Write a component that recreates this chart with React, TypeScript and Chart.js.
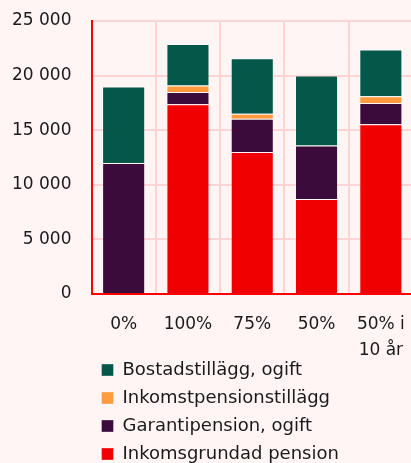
import React, { useEffect, useRef } from "react";
import { Chart, registerables } from "chart.js";

Chart.register(...registerables);

const categories: (string | string[])[] = ["0%", "100%", "75%", "50%", ["50% i", "10 år"]];
const inkomstgrundad = [0, 17370, 13000, 8700, 15550];
const garantipension = [12000, 1130, 3050, 4900, 1950];
const inkomstpensionstillagg = [0, 600, 450, 0, 600];
const bostadstillagg = [7000, 3800, 5100, 6400, 4300];
const yTicks = [0, 5000, 10000, 15000, 20000, 25000];

const BG = "#fff5f4";
const FONT = "'DejaVu Sans', 'Noto Sans', sans-serif";

const extendXClip = {
  id: "extendXClip",
  afterLayout(chart: any) {
    const x = chart.scales.x;
    if (x) x.bottom += 18;
  },
};

export default function App() {
  const ref = useRef<HTMLCanvasElement | null>(null);
  useEffect(() => {
    document.documentElement.style.overflow = "hidden";
    const ctx = ref.current!;
    const border = "rgba(255,255,255,0.35)";
    const chart = new Chart(ctx, {
      type: "bar",
      data: {
        labels: categories,
        datasets: [
          { label: "Inkomsgrundad pension", data: inkomstgrundad, backgroundColor: "#f00000", borderColor: border, borderWidth: 1 },
          { label: "Garantipension, ogift", data: garantipension, backgroundColor: "#3a0b3b", borderColor: border, borderWidth: 1 },
          { label: "Inkomstpensionstillägg", data: inkomstpensionstillagg, backgroundColor: "#ff9b3d", borderColor: border, borderWidth: 1 },
          { label: "Bostadstillägg, ogift", data: bostadstillagg, backgroundColor: "#03584a", borderColor: border, borderWidth: 1 },
        ],
      },
      plugins: [extendXClip],
      options: {
        animation: false,
        responsive: false,
        maintainAspectRatio: false,
        layout: { padding: { top: 13, right: 0, left: 0, bottom: 0 } },
        datasets: { bar: { categoryPercentage: 1, barPercentage: 0.67 } },
        plugins: {
          tooltip: { enabled: false },
          legend: {
            position: "bottom",
            align: "start",
            fullSize: false,
            reverse: true,
            labels: {
              boxWidth: 12,
              boxHeight: 12,
              padding: 10,
              color: "#1a1a1a",
              font: { family: FONT, size: 18 },
            },
          },
        },
        scales: {
          x: {
            stacked: true,
            grid: { color: "#ffd4d4", drawTicks: false, lineWidth: 2 },
            border: { color: "#ff0000", width: 2 },
            ticks: {
              color: "#1a1a1a",
              padding: 18,
              font: { family: FONT, size: 17, lineHeight: 1.5 },
            },
            afterFit: (s: any) => {
              s.height = 57;
              s.paddingLeft = 0;
              s.paddingRight = 0;
            },
          },
          y: {
            stacked: true,
            min: 0,
            max: 25000,
            afterBuildTicks: (s: any) => {
              s.ticks = yTicks.map((v) => ({ value: v }));
            },
            grid: { color: "#ffd4d4", drawTicks: false, lineWidth: 2 },
            border: { color: "#ff0000", width: 2 },
            ticks: {
              color: "#1a1a1a",
              padding: 20,
              font: { family: FONT, size: 17 },
              callback: (v: any) => {
                const n = Number(v);
                return String(n).replace(/\B(?=(\d{3})+(?!\d))/g, " ");
              },
            },
            afterFit: (s: any) => {
              s.width = 83.5;
              s.paddingTop = 0;
              s.paddingBottom = 0;
            },
          },
        },
      },
    });
    return () => chart.destroy();
  }, []);
  return (
    <div style={{ position: "fixed", left: 0, top: 0, width: 411, height: 463, overflow: "hidden", background: BG }}>
      <div style={{ position: "absolute", left: 8, top: 8, width: 405, height: 465 }}>
        <canvas ref={ref} width={405} height={465} style={{ display: "block", width: 405, height: 465 }} />
      </div>
    </div>
  );
}
